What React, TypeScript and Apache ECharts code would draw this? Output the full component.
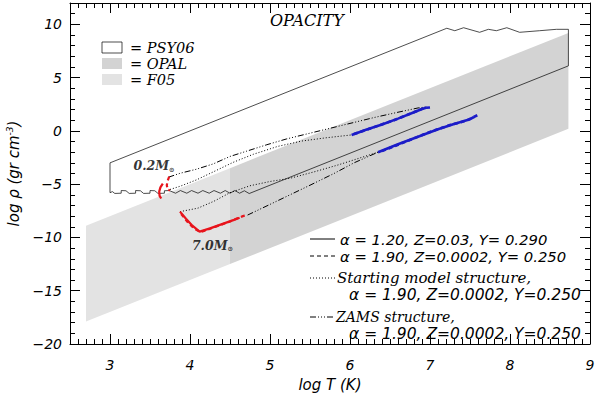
import React, { useEffect, useRef } from "react";
import * as echarts from "echarts";

// ---------------- data (log T, log rho) ----------------
const xTickValues = [3, 4, 5, 6, 7, 8, 9];
const yTickValues = [-20, -15, -10, -5, 0, 5, 10];

// opacity table domains
const f05Region = [[2.7, -8.9], [4.5, -3.5], [4.5, -12.5], [2.7, -17.9]];
const opalRegion = [[4.5, -3.5], [8.73, 9.19], [8.73, 0.19], [4.5, -12.5]];
const psy06Outline = [
  [3.0, -3.0], [7.21, 9.63], [7.31, 9.4], [7.42, 9.68], [7.62, 9.25], [7.73, 9.53],
  [7.83, 9.4], [7.96, 9.68], [8.12, 9.25], [8.37, 9.4], [8.58, 9.53], [8.73, 9.53],
  [8.73, 6.1], [4.74, -5.88], [4.68, -5.62], [4.62, -5.85], [4.56, -5.6], [4.5, -5.85],
  [4.44, -5.6], [4.38, -5.85], [4.3, -5.6], [4.24, -5.85], [4.16, -5.6], [4.1, -5.85],
  [4.02, -5.6], [3.96, -5.85], [3.88, -5.6], [3.82, -5.85], [3.74, -5.6], [3.68, -5.62],
  [3.68, -5.85], [3.6, -5.87], [3.56, -5.62], [3.5, -5.6], [3.5, -5.85], [3.42, -5.87],
  [3.38, -5.62], [3.32, -5.6], [3.32, -5.85], [3.24, -5.87], [3.2, -5.62], [3.14, -5.6],
  [3.14, -5.85], [3.06, -5.87], [3.03, -5.7], [3.0, -5.8], [3.0, -3.0],
];

// 0.2 Msun track
const start02 = [[3.75, -5.5], [3.875, -5.2], [4.08, -4.6], [4.29, -3.85], [4.54, -2.95], [4.79, -2.2], [5.1, -1.45], [5.4, -0.95], [5.7, -0.65], [6.02, -0.38]];
const zams02 = [[3.73, -4.35], [3.875, -3.98], [4.08, -3.6], [4.29, -3.1], [4.5, -2.4], [4.71, -1.9], [4.96, -1.3], [5.21, -0.75], [5.4, -0.4], [5.7, 0.15], [6.0, 0.7], [6.3, 1.25], [6.6, 1.75], [6.85, 2.15], [6.96, 2.25]];
const red02Solid = [[3.66, -4.95], [3.63, -5.3], [3.615, -5.7], [3.62, -6.1], [3.64, -6.35]];
const red02Dashed = [[3.74, -4.3], [3.72, -4.7], [3.71, -5.1], [3.72, -5.5], [3.75, -5.6]];
const blue02Solid = [[6.02, -0.38], [6.2, 0.1], [6.4, 0.6], [6.6, 1.15], [6.8, 1.75], [6.9, 2.05], [6.96, 2.2]];
const blue02Dashed = [[6.05, -0.3], [6.3, 0.35], [6.55, 1.0], [6.75, 1.6], [6.93, 2.15], [7.0, 2.2]];

// 7.0 Msun track
const start70 = [[3.875, -7.58], [4.1, -7.25], [4.3, -6.6], [4.5, -5.8], [4.75, -5.15], [5.0, -4.75], [5.25, -4.45], [5.55, -3.85], [5.85, -3.2], [6.1, -2.6], [6.35, -2.0]];
const zams70 = [[4.72, -7.9], [5.0, -6.9], [5.25, -6.0], [5.5, -5.1], [5.8, -4.0], [6.05, -3.0], [6.35, -2.0]];
const red70Solid = [[3.875, -7.58], [3.95, -8.25], [4.03, -8.9], [4.12, -9.45], [4.25, -9.15], [4.4, -8.75], [4.55, -8.35], [4.62, -8.15]];
const red70Dashed = [[3.89, -7.8], [3.97, -8.55], [4.05, -9.15], [4.13, -9.5], [4.3, -9.05], [4.5, -8.5], [4.66, -8.0], [4.72, -7.9]];
const blue70Solid = [[6.35, -2.0], [6.6, -1.25], [6.85, -0.55], [7.1, 0.15], [7.3, 0.65], [7.5, 1.1], [7.55, 1.3]];
const blue70Dashed = [[6.4, -1.9], [6.7, -1.0], [7.0, -0.1], [7.25, 0.55], [7.45, 0.95], [7.6, 1.5]];

const massLabels = [
  { text: "0.2M", at: [3.55, -3.25] },
  { text: "7.0M", at: [4.28, -10.75] },
];

const tableLegend = ["= PSY06", "= OPAL", "= F05"];
const modelLegend = [
  "α = 1.20, Z=0.03, Y= 0.290",
  "α = 1.90, Z=0.0002, Y= 0.250",
  "Starting model structure,",
  "α = 1.90, Z=0.0002, Y=0.250",
  "ZAMS structure,",
  "α = 1.90, Z=0.0002, Y=0.250",
];

// ---------------- styles ----------------
const SANS = "DejaVu Sans";
const SERIF = "DejaVu Serif";
const RED = "#e8141c";
const BLUE = "#1c1cc8";
const DOTS = [1, 2];
const DASHDOT3 = [6, 2, 1, 2, 1, 2, 1, 2];
const DASH = [4, 3];
const OPAL_GRAY = "#d3d3d3";
const F05_GRAY = "#e3e3e3";

function regionSeries(points: number[][], fill: string) {
  return {
    type: "custom",
    silent: true,
    coordinateSystem: "cartesian2d",
    data: [[points[0][0], points[0][1]]],
    renderItem: (_p: any, api: any) => ({
      type: "polygon",
      shape: { points: points.map((pt) => api.coord(pt)) },
      style: { fill, stroke: "none" },
    }),
    z: 1,
  };
}

function lineSeries(data: number[][], color: string, width: number, type: any, z = 3) {
  return {
    type: "line",
    data,
    showSymbol: false,
    symbol: "none",
    silent: true,
    lineStyle: { color, width, type },
    z,
  };
}

const axisCommon = {
  axisLine: { show: true, onZero: false, lineStyle: { color: "#000", width: 1 } },
  axisTick: { show: true, inside: true, length: 10, lineStyle: { color: "#000", width: 1 } },
  minorTick: { show: true, length: 5, lineStyle: { color: "#000", width: 1 } },
  splitLine: { show: false },
};

export default function App() {
  const ref = useRef<HTMLDivElement>(null);
  useEffect(() => {
    const chart = echarts.init(ref.current!, null, { renderer: "svg" });
    const labelFont = { fontFamily: SANS, fontStyle: "italic", fontSize: 14, color: "#000" };

    const graphic: any[] = [];
    // title
    graphic.push({
      type: "text", left: 270, top: 12,
      style: { text: "OPACITY", fontFamily: SERIF, fontStyle: "italic", fontSize: 16, fill: "#000" },
    });
    // table legend
    const boxFill = ["#fff", OPAL_GRAY, F05_GRAY];
    const boxY = [42, 58, 74];
    tableLegend.forEach((t, i) => {
      graphic.push({
        type: "rect", shape: { x: 102, y: boxY[i], width: 20, height: 11 },
        style: { fill: boxFill[i], stroke: i === 0 ? "#000" : "none", lineWidth: 0.7 },
      });
      graphic.push({
        type: "text", x: 130, y: boxY[i] + 5.5,
        style: { text: t, fontFamily: SERIF, fontStyle: "italic", fontSize: 14.5, fill: "#000", textVerticalAlign: "middle" },
      });
    });
    // model legend
    const rowY = [239, 256, 278, 295, 317, 334];
    const rowX = [340, 340, 337, 349, 336, 349];
    const rowSize = [14.8, 14.8, 15, 15.5, 14, 15.5];
    const rowSerif = [false, false, true, false, true, false];
    const sample: any[] = [[], DASH, DOTS, null, DASHDOT3, null];
    modelLegend.forEach((t, i) => {
      if (sample[i] !== null) {
        graphic.push({
          type: "line", shape: { x1: 310, y1: rowY[i], x2: 335, y2: rowY[i] },
          style: { stroke: "#000", lineWidth: 1, lineDash: sample[i].length ? sample[i] : null },
        });
      }
      graphic.push({
        type: "text", x: rowX[i], y: rowY[i],
        style: {
          text: t, fontFamily: rowSerif[i] ? SERIF : SANS, fontStyle: "italic",
          fontSize: rowSize[i], fill: "#000", textVerticalAlign: "middle",
        },
      });
    });

    const option: any = {
      animation: false,
      backgroundColor: "#fff",
      grid: { left: 70, right: 10, top: 3, bottom: 50, containLabel: false, outerBoundsMode: "none" },
      xAxis: [
        {
          type: "value", min: 2.5, max: 9, splitNumber: 6, position: "bottom",
          ...axisCommon,
          minorTick: { ...axisCommon.minorTick, splitNumber: 10 },
          axisLabel: { ...labelFont, margin: 14, showMinLabel: false, formatter: (v: number) => (xTickValues.includes(v) ? String(v) : "") },
          name: "log T (K)", nameLocation: "middle", nameGap: 33,
          nameTextStyle: { fontFamily: SANS, fontStyle: "italic", fontSize: 15, color: "#000" },
        },
        {
          type: "value", min: 2.5, max: 9, splitNumber: 6, position: "top",
          ...axisCommon,
          minorTick: { ...axisCommon.minorTick, splitNumber: 10 },
          axisLabel: { show: false },
        },
      ],
      yAxis: [
        {
          type: "value", min: -20, max: 12, interval: 5, position: "left",
          ...axisCommon,
          minorTick: { ...axisCommon.minorTick, splitNumber: 5 },
          axisLabel: { ...labelFont, margin: 8, showMaxLabel: false, formatter: (v: number) => (yTickValues.includes(v) ? String(v).replace("-", "\u2212") : "") },
          name: "{a|log ρ (gr cm}{s|-3}{a|)}", nameLocation: "middle", nameGap: 42,
          nameTextStyle: {
            color: "#000",
            rich: {
              a: { fontFamily: SANS, fontStyle: "italic", fontSize: 15, color: "#000", lineHeight: 18 },
              s: { fontFamily: SANS, fontStyle: "italic", fontSize: 9, color: "#000", lineHeight: 18, verticalAlign: "top" },
            },
          },
        },
        {
          type: "value", min: -20, max: 12, interval: 5, position: "right",
          ...axisCommon,
          minorTick: { ...axisCommon.minorTick, splitNumber: 5 },
          axisLabel: { show: false },
        },
      ],
      graphic,
      series: [
        regionSeries(f05Region, F05_GRAY),
        regionSeries(opalRegion, OPAL_GRAY),
        lineSeries(psy06Outline, "#000", 0.7, "solid", 2),
        lineSeries(start02, "#000", 1, DOTS),
        lineSeries(zams02, "#000", 1, DASHDOT3),
        lineSeries(start70, "#000", 1, DOTS),
        lineSeries(zams70, "#000", 1, DASHDOT3),
        lineSeries(red02Solid, RED, 2.2, "solid", 4),
        lineSeries(red02Dashed, RED, 2.2, DASH, 4),
        lineSeries(red70Solid, RED, 2.2, "solid", 4),
        lineSeries(red70Dashed, RED, 2.2, DASH, 4),
        lineSeries(blue02Solid, BLUE, 2.6, "solid", 4),
        lineSeries(blue02Dashed, BLUE, 2.6, DASH, 4),
        lineSeries(blue70Solid, BLUE, 2.6, "solid", 4),
        lineSeries(blue70Dashed, BLUE, 2.6, DASH, 4),
        {
          type: "scatter",
          symbolSize: 0,
          silent: true,
          z: 5,
          data: massLabels.map((m) => ({ value: m.at, name: m.text })),
          label: {
            show: true, position: "inside",
            formatter: (p: any) => `{m|${p.name}}{s|⊙}`,
            rich: {
              m: { fontFamily: SERIF, fontStyle: "italic", fontWeight: "bold", fontSize: 12.5, color: "#000", lineHeight: 15 },
              s: { fontFamily: SANS, fontSize: 6.5, fontWeight: "bold", color: "#000", lineHeight: 15, verticalAlign: "bottom" },
            },
          },
        },
      ],
    };
    chart.setOption(option);
    return () => chart.dispose();
  }, []);
  return <div ref={ref} style={{ position: "fixed", left: 0, top: 0, width: 600, height: 394 }} />;
}
